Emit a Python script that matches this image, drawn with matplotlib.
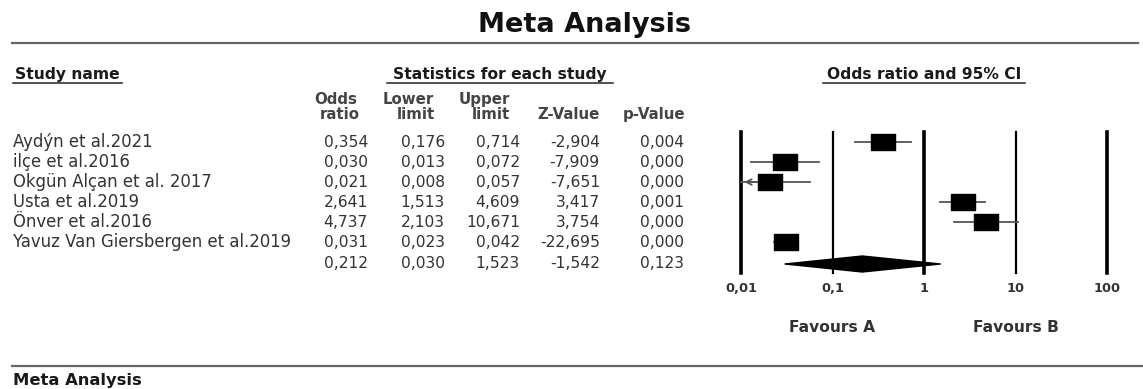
import matplotlib.pyplot as plt
import numpy as np
from matplotlib.path import Path

W, H = 1143, 389

STUDIES = ["Aydýn et al.2021", "ilçe et al.2016", "Okgün Alçan et al. 2017",
           "Usta et al.2019", "Önver et al.2016",
           "Yavuz Van Giersbergen et al.2019"]
ODDS = [0.354, 0.030, 0.021, 2.641, 4.737, 0.031]
LOWER = [0.176, 0.013, 0.008, 1.513, 2.103, 0.023]
UPPER = [0.714, 0.072, 0.057, 4.609, 10.671, 0.042]
Z_VALS = [-2.904, -7.909, -7.651, 3.417, 3.754, -22.695]
P_VALS = [0.004, 0.000, 0.000, 0.001, 0.000, 0.000]

POOLED = [0.212, 0.030, 1.523, -1.542, 0.123]  # OR, lower, upper, Z, p

AXIS_TICKS = [0.01, 0.1, 1, 10, 100]
AXIS_LABELS = ["0,01", "0,1", "1", "10", "100"]

TXT = "#333333"
HDR = "#1a1a1a"


def fmt(v):
    return ("%.3f" % v).replace(".", ",")


def row_y(i):
    return 142 + 20 * i


fig = plt.figure(figsize=(W / 100, H / 100), dpi=100)
ax = fig.add_axes([0, 0, 1, 1])
ax.set_xlim(0, W)
ax.set_ylim(H, 0)
ax.axis("off")

# title and rules
ax.text(584, 25, "Meta Analysis", ha="center", va="center",
        fontsize=19.5, fontweight="bold", color="#111111")
ax.plot([12, 1138], [43, 43], color="#666666", lw=1.6)
ax.plot([12, W], [366, 366], color="#666666", lw=1.6)
ax.text(13, 380, "Meta Analysis", ha="left", va="center",
        fontsize=11.8, fontweight="bold", color=HDR)

# section headers
for x0, x1, label in [(13, 122, "Study name"),
                      (387, 613, "Statistics for each study"),
                      (823, 1025, "Odds ratio and 95% CI")]:
    ax.text((x0 + x1) / 2, 74, label, ha="center", va="center",
            fontsize=11.2, fontweight="bold", color=HDR)
    ax.plot([x0, x1], [82.5, 82.5], color="#333333", lw=1.2)

# column headers
col_right = [368, 445, 520, 600, 684]
hdr_kw = dict(ha="center", va="center", fontsize=10.8,
              fontweight="bold", color="#444444")
ax.text(336, 99, "Odds", **hdr_kw)
ax.text(340, 114, "ratio", **hdr_kw)
ax.text(408, 99, "Lower", **hdr_kw)
ax.text(416, 114, "limit", **hdr_kw)
ax.text(484, 99, "Upper", **hdr_kw)
ax.text(491, 114, "limit", **hdr_kw)
hdr_kw["ha"] = "right"
ax.text(600, 114, "Z-Value", **hdr_kw)
ax.text(685, 114, "p-Value", **hdr_kw)

# table rows
for i, name in enumerate(STUDIES):
    y = row_y(i)
    ax.text(13, y, name, ha="left", va="center", fontsize=11.9, color=TXT)
    vals = [ODDS[i], LOWER[i], UPPER[i], Z_VALS[i], P_VALS[i]]
    for x, v in zip(col_right, vals):
        ax.text(x, y, fmt(v), ha="right", va="center", fontsize=11.2,
                color=TXT)
y_sum = row_y(len(STUDIES)) + 1
for x, v in zip(col_right, POOLED):
    ax.text(x, y_sum, fmt(v), ha="right", va="center", fontsize=11.2,
            color=TXT)

# forest plot
fx = fig.add_axes([741 / W, 0, (1107 - 741) / W, 1])
fx.set_xscale("log")
fx.set_xlim(0.01, 100)
fx.set_ylim(H, 0)
fx.axis("off")

for t, lab in zip(AXIS_TICKS, AXIS_LABELS):
    lw = 2.6 if t in (0.01, 1, 100) else 1.6
    fx.plot([t, t], [132, 273], color="black", lw=lw, clip_on=False)
    fx.text(t, 289, lab, ha="center", va="center", fontsize=9.3,
            fontweight="bold", color="#333333")

fx.text(0.1, 328, "Favours A", ha="center", va="center", fontsize=11.2,
        fontweight="bold", color="#333333")
fx.text(10, 328, "Favours B", ha="center", va="center", fontsize=11.2,
        fontweight="bold", color="#333333")

box = Path([(-1.45, -1), (1.45, -1), (1.45, 1), (-1.45, 1), (-1.45, -1)],
           [Path.MOVETO, Path.LINETO, Path.LINETO, Path.LINETO,
            Path.CLOSEPOLY])
for i in range(len(STUDIES)):
    y = row_y(i)
    lo = max(LOWER[i], 0.01)
    fx.plot([lo, UPPER[i]], [y, y], color="#555555", lw=1.3,
            clip_on=False, zorder=2)
    if LOWER[i] < 0.01:
        fx.annotate("", xy=(0.0101, y), xytext=(0.016, y),
                    arrowprops=dict(arrowstyle="->", color="#555555",
                                    lw=1.3, mutation_scale=10))
    fx.plot([ODDS[i]], [y], marker=box, markersize=17, color="black",
            linestyle="none", clip_on=False, zorder=3)

# summary diamond
d_or, d_lo, d_hi = POOLED[0], POOLED[1], POOLED[2]
yd = 264
fx.fill([d_lo, d_or, d_hi, d_or], [yd, yd - 8, yd, yd + 8],
        color="black", zorder=3, clip_on=False)

fig.savefig("out.png", dpi=100)
